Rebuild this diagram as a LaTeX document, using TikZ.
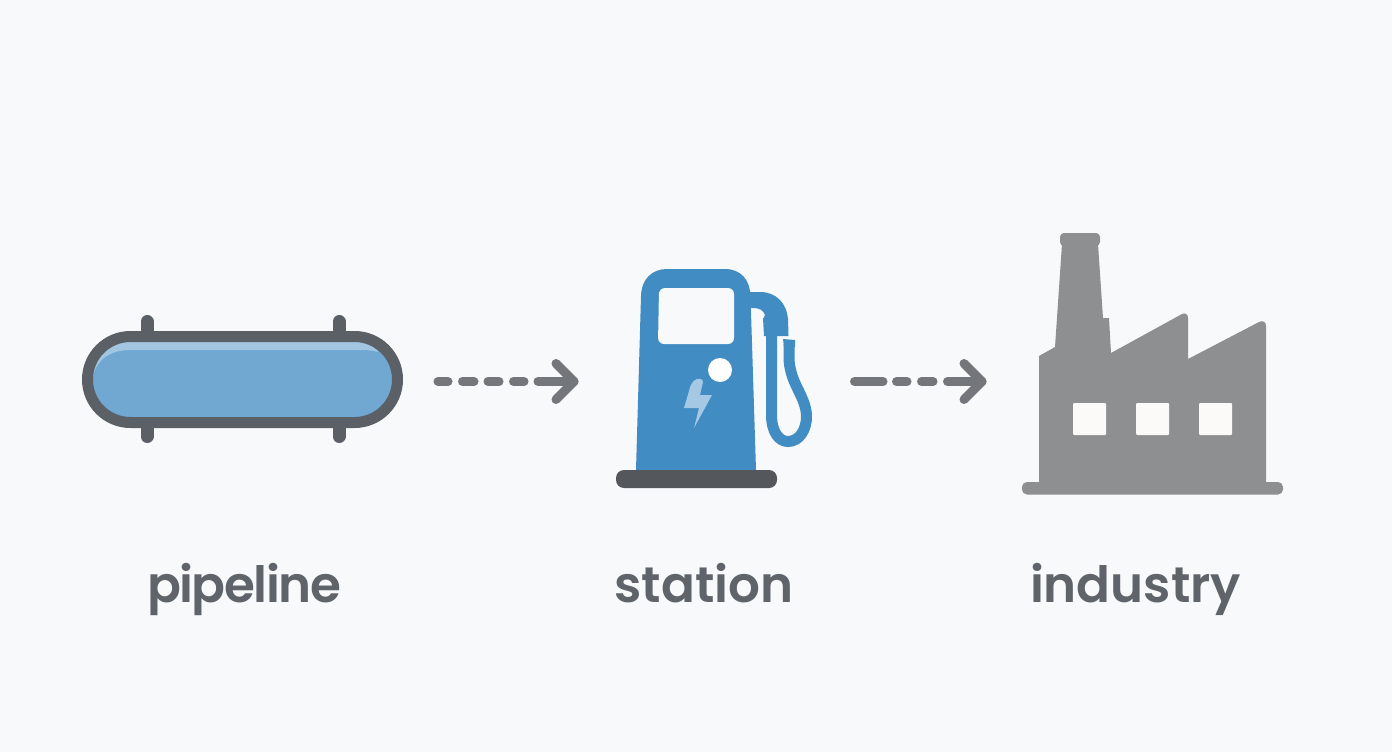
\documentclass[tikz,border=0pt]{standalone}
\usepackage{fontspec}
\setmainfont{Poppins}[UprightFont=* SemiBold]
\definecolor{bgc}{HTML}{F7F9FB}
\definecolor{darkg}{HTML}{5B6066}
\definecolor{pipeb}{HTML}{70A8D2}
\definecolor{pipeh}{HTML}{A2C6E2}
\definecolor{pumpb}{HTML}{418CC3}
\definecolor{bolt}{HTML}{A5C8E4}
\definecolor{basec}{HTML}{54575C}
\definecolor{facg}{HTML}{8E8F91}
\definecolor{winc}{HTML}{FBFAF8}
\definecolor{arrowg}{HTML}{73767B}
\definecolor{labelg}{HTML}{5F646B}
\tikzset{
  labeltext/.style={font=\fontsize{50}{52}\selectfont,text=labelg,inner sep=0pt,anchor=base},
  flow/.style={draw=arrowg,line width=9pt,line cap=round,line join=round},
  lug/.style={draw=darkg,line width=13pt,line cap=round},
  hose/.style={draw=pumpb,line width=11pt},
}
\begin{document}
\begin{tikzpicture}[x=1pt,y=-1pt]
\useasboundingbox (0,0) rectangle (1392,752);
\fill[bgc] (0,0) rectangle (1392,752);
% pipeline
\draw[lug] (147,321.5) -- (147,436.5);
\draw[lug] (339,321.5) -- (339,436.5);
\fill[pipeb,rounded corners=43pt] (87.5,336.5) rectangle (397.5,422.5);
\fill[pipeh] (93,377) .. controls (94,355) and (108,342) .. (130,342) -- (355,342) .. controls (366,342) and (373,345) .. (378,352) .. controls (372,350) and (366,350) .. (355,350) -- (130,350) .. controls (110,350) and (96,360) .. (93,377) -- cycle;
\draw[darkg,line width=11pt,rounded corners=43pt] (87.5,336.5) rectangle (397.5,422.5);
% connectors
\coordinate (a1e) at (574,381.5);
\coordinate (a1t) at (556,363.5); \coordinate (a1b) at (556,399.5);
\foreach \p/\q in {438/448,462.5/474,488/499,513.5/524}{\draw[flow] (\p,381.5) -- (\q,381.5);}
\draw[flow] (538,381.5) -- (a1e);
\draw[flow] (a1t) -- (a1e) -- (a1b);
\foreach \p/\q in {854.5/883,896.5/907,921.5/933}{\draw[flow] (\p,381.5) -- (\q,381.5);}
\draw[flow] (947.5,381.5) -- (982,381.5);
\draw[flow] (964,363.5) -- (982,381.5) -- (964,399.5);
% station
\fill[pumpb] (636,470) -- (641,296) .. controls (641.5,279) and (652,269) .. (667,269) -- (725,269) .. controls (741,269) and (750,280) .. (750.5,296) -- (756,470) -- cycle;
\fill[bgc,rounded corners=6pt] (659,288) -- (734,288) -- (734,344) -- (658,344) -- cycle;
\fill[white] (720,370) circle (12pt);
\fill[bolt] (684,408) -- (699,408) -- (694,428) -- (712,395) -- (700,395) -- (703,382) .. controls (703,378) and (698,378) .. (695,380) .. controls (691,383) and (690,387) .. (689,391) -- cycle;
\fill[basec,rounded corners=8pt] (616,470) rectangle (777,488);
% nozzle arm and hose
\fill[pumpb] (749,292) -- (760,292) .. controls (776,292) and (787,303) .. (788,320) -- (763,320) -- (765,315) .. controls (763,310) and (760,308) .. (752,308) -- (749,308) -- cycle;
\fill[pumpb] (763,318) -- (788,318) -- (788.5,336) -- (764,336) -- cycle;
\draw[hose] (771.5,334) -- (771.5,415) .. controls (771.5,432) and (779,441.5) .. (788,441.5) .. controls (799,441.5) and (807,430) .. (806.5,415) .. controls (805,395) and (791,385) .. (789,360) -- (789,344);
\fill[pumpb] (783,339) -- (795,340) -- (795,347) -- (784,347) -- cycle;
% factory
\fill[facg,rounded corners=5pt] (1022,482) rectangle (1283,494.5);
\fill[facg,rounded corners=4pt] (1060,233) rectangle (1100,246);
\fill[facg] (1039,488) -- (1039,356) -- (1055,347) -- (1062,244) -- (1098,244) -- (1103,318) -- (1109,318) -- (1111,353) -- (1182,314) .. controls (1185,312.5) and (1188,314) .. (1188,318) -- (1188,359) -- (1259,322) .. controls (1263,320) and (1266,322) .. (1266,326) -- (1266,488) -- cycle;
\foreach \x in {1073,1136,1199}{\fill[winc,rounded corners=1pt] (\x,403) rectangle ++(33,32);}
% labels
\node[labeltext] (l1) at (244,602) {\addfontfeature{LetterSpace=-3}pipeline};
\node[labeltext] (l2) at (704,602) {station};
\node[labeltext] (l3) at (1135.5,602) {industry};
\end{tikzpicture}
\end{document}
